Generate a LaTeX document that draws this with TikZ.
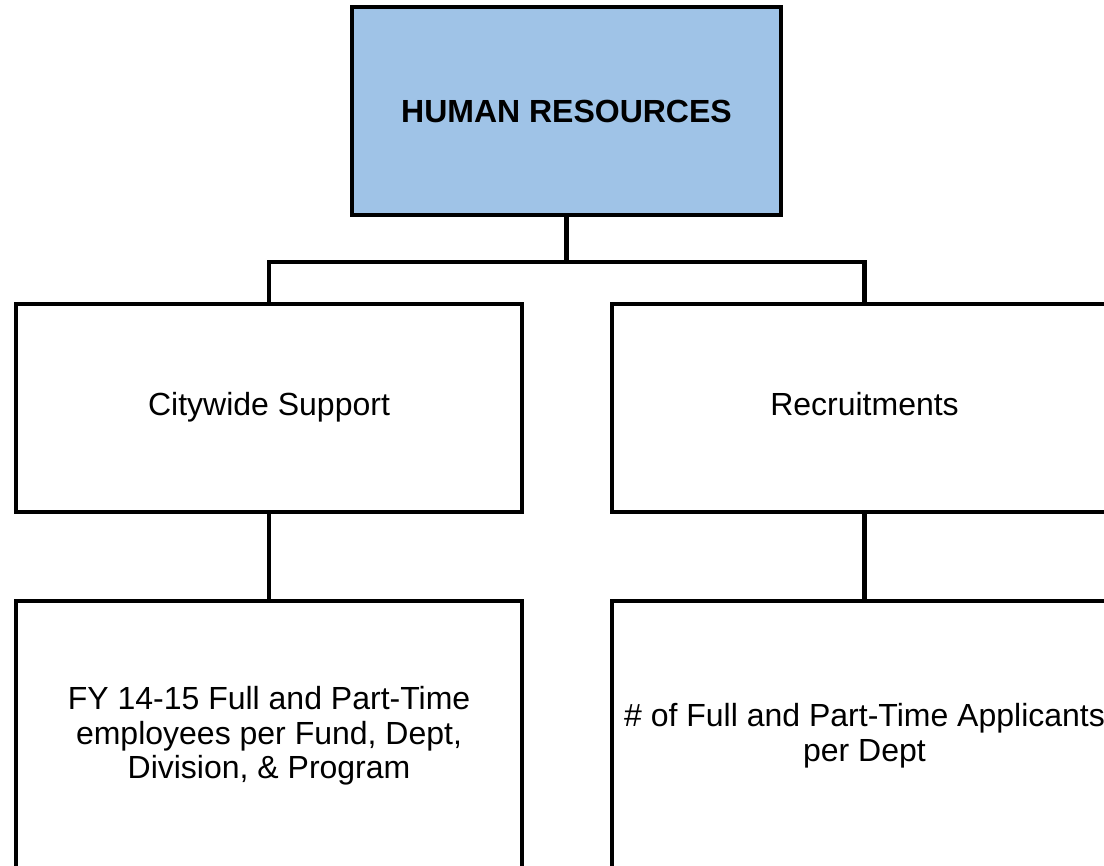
\documentclass[tikz,border=0pt]{standalone}
\usepackage{fontspec}
\setmainfont{Liberation Sans}
\usepackage{xcolor}
\usetikzlibrary{positioning}
\definecolor{hrblue}{RGB}{159,195,231}

\begin{document}
\begin{tikzpicture}[x=0.75pt,y=-0.75pt,on grid,node distance=246pt]
        \tikzstyle{unit}=[draw=black,line width=3pt,fill=white,align=center,
            minimum width=379.5pt,minimum height=156pt,inner sep=0pt,
            font=\fontsize{24}{26}\selectfont]
        \tikzstyle{oneline}=[text height=18pt,text depth=6pt]
        \tikzstyle{link}=[draw=black,line width=3.2pt]
        \useasboundingbox (0,0) rectangle (1104,866);
        \node[unit,fill=hrblue,minimum width=321.75pt,font=\fontsize{24}{26}\selectfont\bfseries] (HR) at (566.5,111) {HUMAN RESOURCES};
        \node[unit,oneline] (CS) [below left=222.75pt and 223.1pt of HR] {Citywide Support};
        \node[unit,oneline] (RC) [below right=222.75pt and 223.5pt of HR] {Recruitments};
        \node[unit,minimum height=202.5pt] (FY) [below=246pt of CS] {FY 14-15 Full and Part-Time\\employees per Fund, Dept,\\Division, \& Program};
        \node[unit,minimum height=202.5pt] (AP) [below=246pt of RC] {\# of Full and Part-Time Applicants\\per Dept};
        \path (HR.south) ++(0,45) coordinate (split);
        \path[link] (HR.south) -- (split) -| (CS.north)
        (split) -| (RC.north)
        (CS.south) -- (FY.north)
        (RC.south) -- (AP.north);
    \end{tikzpicture}
\end{document}
